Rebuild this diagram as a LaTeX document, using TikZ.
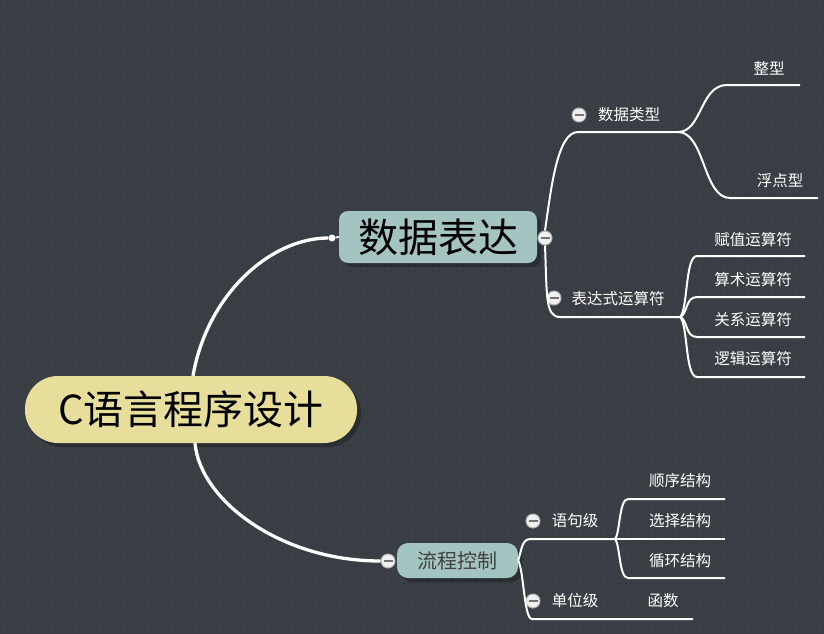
\documentclass[tikz,border=0pt]{standalone}
\usepackage{fontspec}
\newfontfamily\cjk{Noto Sans CJK SC}
\usepackage{xcolor}
\usepackage{tikz}
\usetikzlibrary{shadows,patterns.meta,positioning}

\definecolor{bgcol}{HTML}{393F44}
\definecolor{bgdot}{HTML}{30353A}
\definecolor{rootfill}{HTML}{E8DE9C}
\definecolor{topicfill}{HTML}{A3C4C0}
\definecolor{shade}{HTML}{2A2E32}

\tikzdeclarepattern{
  name=bgdots, type=uncolored,
  bounding box={(0pt,0pt) and (6pt,6pt)},
  tile size={(6pt,6pt)},
  code={\fill (3pt,3pt) circle (0.9pt);}
}

\begin{document}
\begin{tikzpicture}[
  x=1pt, y=-1pt,
  root/.style={fill=rootfill, rounded corners=33pt, minimum width=332pt, minimum height=67pt, inner sep=0pt,
    font=\cjk\fontsize{40}{44}\selectfont, drop shadow={shadow xshift=4pt, shadow yshift=-4pt, fill=shade, opacity=1}},
  topic/.style={fill=topicfill, rounded corners=9pt, minimum width=198pt, minimum height=52pt, inner sep=0pt,
    font=\cjk\fontsize{40}{44}\selectfont, drop shadow={shadow xshift=4pt, shadow yshift=-4pt, fill=shade, opacity=1}},
  subtopic/.style={topic, rounded corners=11pt, minimum width=121pt, minimum height=35pt,
    text=black!75, font=\cjk\fontsize{20}{24}\selectfont},
  leaf/.style={text=white, inner sep=0pt, font=\cjk\fontsize{15.5}{18}\selectfont},
  fold/.style={circle, draw=gray!60, fill=gray!12, line width=1pt, minimum size=14pt, inner sep=0pt,
    path picture={\draw[black!55, line width=2pt] ([xshift=-4.5pt]path picture bounding box.center) -- ([xshift=4.5pt]path picture bounding box.center);}},
  joint/.style={circle, fill=white, minimum size=7pt, inner sep=0pt},
  trunk/.style={draw=white, line width=3.3pt},
  branch/.style={draw=white, line width=2pt}
]
\fill[bgcol] (0,0) rectangle (824,634);
\fill[pattern=bgdots, pattern color=bgdot] (0,0) rectangle (824,634);
\useasboundingbox (0,0) rectangle (824,634);

\node[root] (root) at (191,409.5) {C语言程序设计};
\node[topic] (data) at (438,237) {数据表达};
\node[subtopic] (flow) at (457.5,560.5) {流程控制};

\node[joint] (d-data) at (332,238) {};
\node[fold] (f-data) at (545,238) {};
\node[fold] (f-flow) at (388,561) {};

\node[leaf] (type) at (629,115) {数据类型};
\node[fold] (f-type) at (579,115) {};
\node[leaf] (int) at (769,68) {整型};
\node[leaf] (float) at (780,181) {浮点型};

\node[leaf] (op) at (618,299) {表达式运算符};
\node[fold] (f-op) at (554,298) {};
\node[leaf] (op1) at (753,240) {赋值运算符};
\node[leaf] (op2) at (753,280) {算术运算符};
\node[leaf] (op3) at (753,320) {关系运算符};
\node[leaf] (op4) at (753,359) {逻辑运算符};

\node[leaf] (stmt) at (575,521) {语句级};
\node[fold] (f-stmt) at (533,521) {};
\node[leaf] (seq) at (680,481) {顺序结构};
\node[leaf] (sel) at (680,521) {选择结构};
\node[leaf] (loop) at (680,561) {循环结构};

\node[leaf] (unit) at (575,601) {单位级};
\node[fold] (f-unit) at (533,601) {};
\node[leaf] (func) at (663,601) {函数};

\coordinate (k-type) at (678,132);
\coordinate (e-int) at (800,85);
\coordinate (e-float) at (818,198);
\coordinate (k-op) at (680,317);
\coordinate (e-op1) at (805,256);
\coordinate (e-op2) at (805,297);
\coordinate (e-op3) at (805,337);
\coordinate (e-op4) at (805,377);
\coordinate (k-stmt) at (615,539);
\coordinate (e-seq) at (725,499);
\coordinate (e-sel) at (725,539);
\coordinate (e-loop) at (725,578);
\coordinate (e-unit) at (693,619);

\draw[trunk] ([xshift=2pt]root.north) .. controls (207,295) and (270,238) .. (d-data);
\draw[branch] (d-data) -- (data.west);
\draw[trunk] ([xshift=4pt]root.south) .. controls (200,500) and (280,561) .. (f-flow.west);

\draw[branch] (f-data.north) .. controls (551,190) and (557,132) .. (578,132) -- (k-type);
\draw[branch] (k-type) .. controls (702,132) and (700,85) .. (727,85) -- (e-int);
\draw[branch] (k-type) .. controls (705,132) and (703,198) .. (730,198) -- (e-float);

\draw[branch] (f-data.south) .. controls (547,295) and (545,317) .. (560,317) -- (k-op);
\draw[branch] (k-op) .. controls (688,310) and (685,256) .. (697,256) -- (e-op1);
\draw[branch] (k-op) .. controls (688,314) and (685,297) .. (697,297) -- (e-op2);
\draw[branch] (k-op) .. controls (688,320) and (685,337) .. (697,337) -- (e-op3);
\draw[branch] (k-op) .. controls (688,324) and (685,377) .. (697,377) -- (e-op4);

\draw[branch] (flow.east) .. controls (522,548) and (522,539) .. (531,539) -- (k-stmt);
\draw[branch] (flow.east) .. controls (524,572) and (524,619) .. (532,619) -- (e-unit);
\draw[branch] (k-stmt) .. controls (620,534) and (619,499) .. (628,499) -- (e-seq);
\draw[branch] (k-stmt) -- (e-sel);
\draw[branch] (k-stmt) .. controls (620,544) and (619,578) .. (628,578) -- (e-loop);
\end{tikzpicture}
\end{document}
